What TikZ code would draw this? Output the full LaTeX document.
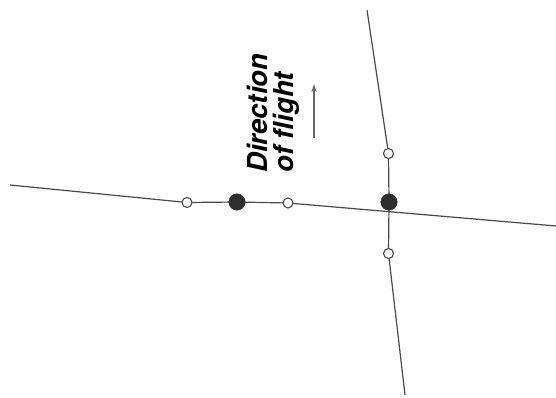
\documentclass[tikz,border=0pt]{standalone}
\usepackage{fontspec}
\newfontfamily\hv{TeX Gyre Heros}
\usetikzlibrary{arrows.meta}
\definecolor{ln}{HTML}{4A4A4A}
\definecolor{dot}{HTML}{2E2E2E}
\tikzset{
  wire/.style={draw=ln, line width=1.2pt},
  opendot/.style={circle, draw=ln, line width=1.1pt, fill=white, minimum size=10pt, inner sep=0pt},
  fulldot/.style={circle, draw=dot, fill=dot, minimum size=16.5pt, inner sep=0pt},
  label/.style={rotate=90, inner sep=0pt, anchor=base west, font=\hv\bfseries\itshape\fontsize{27.5}{27.5}\selectfont},
  flightarrow/.style={draw=ln!85, line width=1.3pt, -{Stealth[length=8pt,width=5pt]}}
}
\begin{document}
\begin{tikzpicture}[x=1pt,y=-1pt]
\useasboundingbox (0,0) rectangle (556,398);
\coordinate (hL) at (10,185);
\coordinate (hR) at (556,226);
\coordinate (vT) at (367,10);
\coordinate (vB) at (405,395);
\coordinate (p1) at (187,202.5);
\coordinate (p2) at (237,202);
\coordinate (p3) at (288,203);
\coordinate (p4) at (388.5,153.5);
\coordinate (p5) at (389,202);
\coordinate (p6) at (388.5,253.5);
\draw[wire] (hL) -- (p1) -- (p2) -- (p3) -- (hR);
\draw[wire] (vT) -- (p4) -- (p5) -- (p6) -- (vB);
\node[opendot] (c1) at (p1) {};
\node[fulldot] (d1) at (p2) {};
\node[opendot] (c2) at (p3) {};
\node[opendot] (c3) at (p4) {};
\node[fulldot] (d2) at (p5) {};
\node[opendot] (c4) at (p6) {};
\node[label] (t1) at (267,173) {Direction};
\node[label] (t2) at (293,173) {of flight};
\coordinate (aB) at (314,138);
\coordinate (aT) at (314,84);
\draw[flightarrow] (aB) -- (aT);
\end{tikzpicture}
\end{document}
